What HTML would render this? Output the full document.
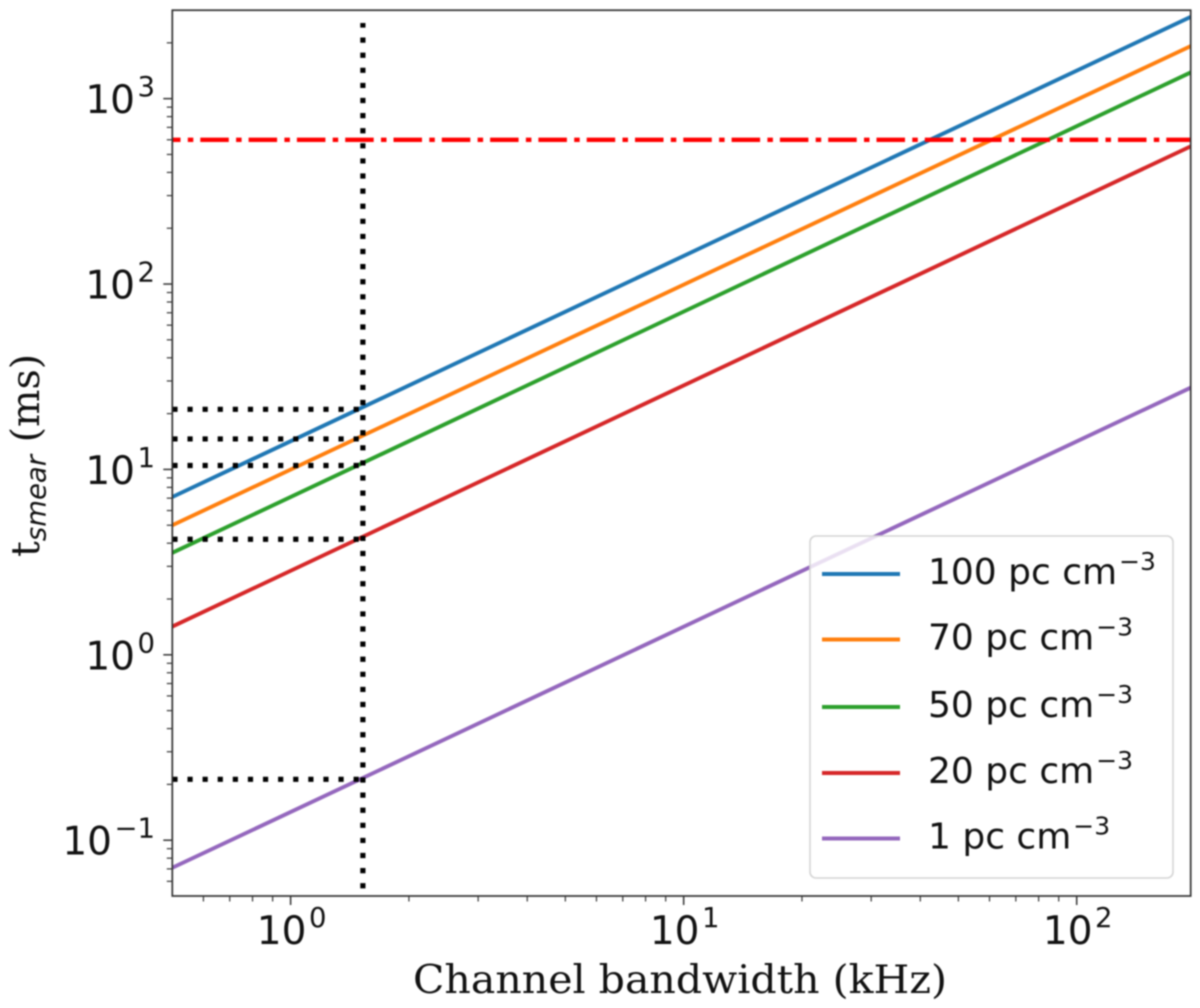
<!DOCTYPE html>
<html lang="en">
<head>
<meta charset="utf-8">
<title>Smearing time vs channel bandwidth</title>
<style>
  html, body { margin: 0; padding: 0; background: #fff; }
  body { width: 1200px; height: 1008px; overflow: hidden; }
  svg { display: block; filter: blur(0.7px); }
  text { fill: #111; font-family: "DejaVu Sans", "Liberation Sans", sans-serif; }
</style>
</head>
<body>
<svg id="chart" xmlns="http://www.w3.org/2000/svg" width="1200" height="1008" viewBox="0 0 1200 1008">
  <defs>
    <clipPath id="plot-clip"><rect x="172.3" y="10.2" width="1018.4" height="885.8"></rect></clipPath>
  </defs>
  <rect x="0" y="0" width="1200" height="1008" fill="#fff"></rect>
  <g id="marks" clip-path="url(#plot-clip)"></g>
  <g id="axes"></g>
  <g id="legend"></g>
  <text x="413" y="993" style="font-family:'DejaVu Serif','Liberation Serif',serif;font-size:38.8px" textLength="534" lengthAdjust="spacingAndGlyphs">Channel bandwidth (kHz)</text>
  <text transform="translate(39,557) rotate(-90)" style="font-family:'DejaVu Serif','Liberation Serif',serif;font-size:39.5px">t<tspan dy="6.5" style="font-family:'DejaVu Sans',sans-serif;font-style:italic;font-size:27.5px">smear</tspan><tspan dy="-6.5"> (ms)</tspan></text>
</svg>
<script>
// Axis limits
const xDomain = [0.5, 195];
const yDomain = [0.05, 3000];

// Tick values and labels
const xTickValues = [1, 10, 100];
const xTickExponents = ['0', '1', '2'];
const yTickValues = [0.1, 1, 10, 100, 1000];
const yTickExponents = ['\u22121', '0', '1', '2', '3'];
const minorMultipliers = [2, 3, 4, 5, 6, 7, 8, 9];
const minorDecades = [0.01, 0.1, 1, 10, 100, 1000];

// Series (bandwidth in kHz, smearing time in ms)
const bandwidths = [0.5, 195];
const dm100 = [7.1, 2760];
const dm70 = [5.0, 1920];
const dm50 = [3.55, 1385];
const dm20 = [1.42, 553];
const dm1 = [0.071, 27.6];
const seriesLabels = ['100 pc cm', '70 pc cm', '50 pc cm', '20 pc cm', '1 pc cm'];
const seriesColors = ['#1f77b4', '#ff7f0e', '#2ca02c', '#d62728', '#9467bd'];
const seriesValues = [dm100, dm70, dm50, dm20, dm1];

// Reference lines
const limitTime = 600;
const chosenBandwidth = 1.527;
const verticalSpan = [0.055, 2560];
const readoutTimes = [21.1, 14.6, 10.5, 4.2, 0.213];

const plotLeft = 172.3, plotRight = 1190.7, plotTop = 10.2, plotBottom = 896;
const lg = Math.log10;
function xScale(v) {
  return plotLeft + (lg(v) - lg(xDomain[0])) / (lg(xDomain[1]) - lg(xDomain[0])) * (plotRight - plotLeft);
}
function yScale(v) {
  return plotBottom - (lg(v) - lg(yDomain[0])) / (lg(yDomain[1]) - lg(yDomain[0])) * (plotBottom - plotTop);
}
const NS = 'http://www.w3.org/2000/svg';
function make(tag, attrs, parent) {
  const el = document.createElementNS(NS, tag);
  for (const k in attrs) el.setAttribute(k, attrs[k]);
  parent.appendChild(el);
  return el;
}
function addSup(textEl, base, exp, expSize, rise, gap) {
  const a = document.createElementNS(NS, 'tspan');
  a.textContent = base;
  textEl.appendChild(a);
  const b = document.createElementNS(NS, 'tspan');
  b.setAttribute('dy', -rise);
  b.setAttribute('dx', gap);
  b.setAttribute('font-size', expSize);
  b.textContent = exp;
  textEl.appendChild(b);
}

const marks = document.getElementById('marks');
const axes = document.getElementById('axes');
const legend = document.getElementById('legend');

// Series lines
seriesValues.forEach(function (vals, i) {
  const pts = bandwidths.map(function (b, j) { return xScale(b) + ',' + yScale(vals[j]); }).join(' ');
  const line = make('polyline', { points: pts, fill: 'none', stroke: seriesColors[i], 'stroke-width': 3.9 }, marks);
  
  
});

// Limit line (dash-dot)
const limitLine = make('line', {
  x1: plotLeft, x2: plotRight, y1: yScale(limitTime), y2: yScale(limitTime),
  stroke: '#ff0000', 'stroke-width': 4.4, 'stroke-dasharray': '28.5 7.3 5.5 7', 'stroke-dashoffset': 20.3
}, marks);



// Vertical dotted line
const vLine = make('line', {
  x1: xScale(chosenBandwidth), x2: xScale(chosenBandwidth), y1: yScale(verticalSpan[0]), y2: yScale(verticalSpan[1]),
  stroke: '#000', 'stroke-width': 5.2, 'stroke-dasharray': '5.2 9.9'
}, marks);



// Horizontal dotted readouts
readoutTimes.forEach(function (t) {
  const h = make('line', {
    x1: xScale(chosenBandwidth), x2: xScale(xDomain[0]), y1: yScale(t), y2: yScale(t),
    stroke: '#000', 'stroke-width': 5.2, 'stroke-dasharray': '5.2 9.9', 'stroke-dashoffset': -4.1
  }, marks);
  
  
});

// Minor ticks
const tickColor = '#333';
minorDecades.forEach(function (d) {
  minorMultipliers.forEach(function (m) {
    const v = d * m;
    if (v > xDomain[0] && v < xDomain[1]) {
      const tx = make('line', { x1: xScale(v), x2: xScale(v), y1: plotBottom, y2: plotBottom + 5.5, stroke: tickColor, 'stroke-width': 1.2 }, axes);
      
      
    }
    if (v > yDomain[0] && v < yDomain[1]) {
      const ty = make('line', { x1: plotLeft, x2: plotLeft - 5.5, y1: yScale(v), y2: yScale(v), stroke: tickColor, 'stroke-width': 1.2 }, axes);
      
      
    }
  });
});

// Major ticks and labels
xTickValues.forEach(function (v, i) {
  const t = make('line', { x1: xScale(v), x2: xScale(v), y1: plotBottom, y2: plotBottom + 9, stroke: tickColor, 'stroke-width': 1.5 }, axes);
  
  
  const lab = make('text', { x: xScale(v) + 1, y: 944, 'text-anchor': 'middle', 'font-size': 39 }, axes);
  
  
  addSup(lab, '10', xTickExponents[i], 27.5, 17, 2.5);
});
yTickValues.forEach(function (v, i) {
  const t = make('line', { x1: plotLeft, x2: plotLeft - 9, y1: yScale(v), y2: yScale(v), stroke: tickColor, 'stroke-width': 1.5 }, axes);
  
  
  const lab = make('text', { x: 155, y: yScale(v) + 14.5, 'text-anchor': 'end', 'font-size': 39 }, axes);
  
  
  addSup(lab, '10', yTickExponents[i], 27.5, 17, 2.5);
});

// Spines
const frame = make('rect', {
  x: plotLeft, y: plotTop, width: plotRight - plotLeft, height: plotBottom - plotTop,
  fill: 'none', stroke: '#333', 'stroke-width': 1.7
}, axes);



// Legend
const legendBox = make('rect', {
  x: 810, y: 536, width: 363, height: 342, rx: 6, ry: 6,
  fill: 'rgba(255,255,255,0.8)', stroke: '#d4d4d4', 'stroke-width': 1.6
}, legend);


const legendRowY = [574, 639.5, 707, 773, 838.5];
seriesLabels.forEach(function (label, i) {
  const h = make('line', { x1: 822, x2: 900, y1: legendRowY[i], y2: legendRowY[i], stroke: seriesColors[i], 'stroke-width': 3.9 }, legend);
  
  
  const t = make('text', { x: 928, y: legendRowY[i] + 10, 'font-size': 36 }, legend);
  
  
  addSup(t, label, '\u22123', 25, 14, 2);
});
</script>
</body>
</html>
